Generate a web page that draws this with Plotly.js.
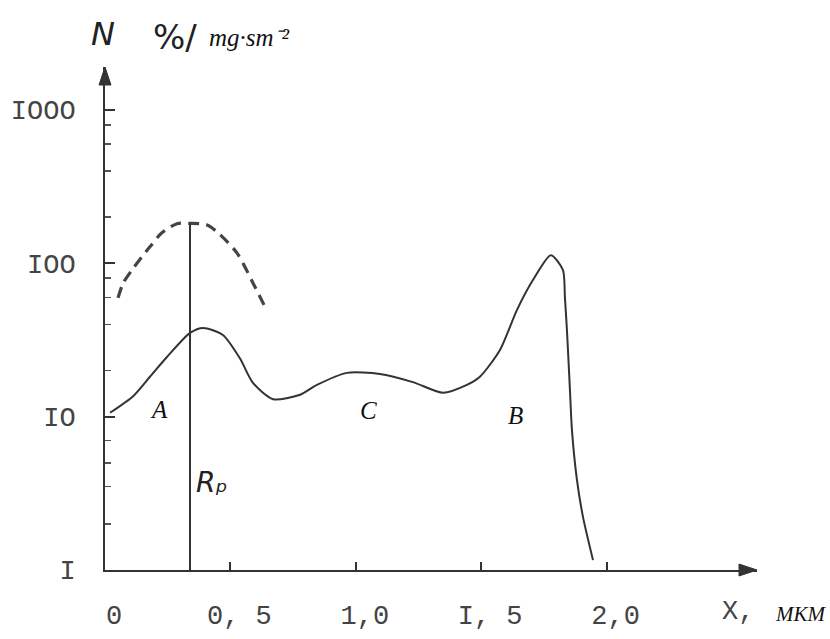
<!DOCTYPE html>
<html>
<head>
<meta charset="utf-8">
<script src="https://cdn.plot.ly/plotly-3.0.1.min.js"></script>
<style>html,body{margin:0;padding:0;background:#fff;}#chart{width:830px;height:639px;}</style>
</head>
<body>
<div id="chart"></div>
<script>
// Solid curve (N, %)
const solidX = [0.02, 0.112, 0.179, 0.247, 0.339, 0.391, 0.47, 0.538, 0.59, 0.67, 0.778, 0.845, 0.965, 1.096, 1.228, 1.348, 1.443, 1.495, 1.575, 1.643, 1.707, 1.778, 1.826, 1.834, 1.842, 1.854, 1.862, 1.882, 1.906, 1.946];
const solidY = [10.6, 13.6, 18.2, 24.5, 35.2, 37.9, 34.1, 24, 16.6, 13.0, 13.9, 16.1, 19.3, 19.0, 16.8, 14.3, 16.1, 18.2, 27.2, 49.7, 78, 113, 90.6, 60, 36.8, 15, 8.2, 3.87, 2.22, 1.16];
// Dashed curve (mg·sm^-2)
const dashedX = [0.052, 0.072, 0.108, 0.179, 0.227, 0.287, 0.339, 0.407, 0.447, 0.526, 0.59, 0.638];
const dashedY = [59.5, 74, 90.6, 128, 158, 181, 182, 178, 160, 117, 74.5, 52];
// Rp marker
const rpX = 0.339;
const rpTop = 182;
// Axis ticks
const xTickVals = [0, 0.5, 1.0, 1.5, 2.0];
const xTickText = ["0", "0, 5", "1,0", "I, 5", "2,0"];
const yTickVals = [1, 10, 100, 1000];
const yTickText = ["I", "IO", "IOO", "IOOO"];
const yMinorVals = [2, 3.5, 5, 7, 20, 40, 60, 80, 200, 400, 600, 800];
// Region labels
const regionLabels = ["A", "C", "B"];
const regionX = [0.215, 1.049, 1.635];
const regionY = [11.1, 10.9, 10.1];

const ink = '#333';
const traces = [
  {x: solidX, y: solidY, mode: 'lines', line: {color: ink, width: 2, shape: 'spline', smoothing: 0.7}, hoverinfo: 'skip'},
  {x: dashedX, y: dashedY, mode: 'lines', line: {color: '#444', width: 3.2, dash: '11px,7px', shape: 'spline', smoothing: 0.8}, hoverinfo: 'skip'},
  {x: [rpX, rpX], y: [1, rpTop], mode: 'lines', line: {color: ink, width: 2}, hoverinfo: 'skip'}
];

const tickFont = {family: 'Liberation Mono, DejaVu Sans Mono, monospace', size: 27, color: '#444'};
const serifIt = (size) => ({family: 'Liberation Serif, serif', size: size, color: '#111', style: 'italic'});
const sansIt = (size) => ({family: 'DejaVu Sans, sans-serif', size: size, color: '#222', style: 'italic'});
const annotations = [];
regionLabels.forEach((t, i) => {
  annotations.push({x: regionX[i], y: Math.log10(regionY[i]), xref: 'x', yref: 'y', text: t, showarrow: false,
    xanchor: 'center', yanchor: 'middle', font: serifIt(25)});
});
annotations.push({x: 0.423, y: Math.log10(3.7), xref: 'x', yref: 'y', text: 'Rₚ', showarrow: false,
  xanchor: 'center', yanchor: 'middle', font: sansIt(28)});
// header labels
annotations.push({x: -0.003, y: 1.066, xref: 'paper', yref: 'paper', text: 'N', showarrow: false,
  xanchor: 'center', yanchor: 'middle', font: sansIt(32)});
annotations.push({x: 0.108, y: 1.06, xref: 'paper', yref: 'paper', text: '%/', showarrow: false,
  xanchor: 'center', yanchor: 'middle', font: {family: 'DejaVu Sans, sans-serif', size: 34, color: '#222'}});
annotations.push({x: 0.222, y: 1.058, xref: 'paper', yref: 'paper', text: 'mg·sm⁻²', showarrow: false,
  xanchor: 'center', yanchor: 'middle', font: serifIt(25)});
annotations.push({x: 0.971, y: -0.083, xref: 'paper', yref: 'paper', text: 'X,', showarrow: false,
  xanchor: 'center', yanchor: 'middle', font: tickFont});
annotations.push({x: 1.067, y: -0.087, xref: 'paper', yref: 'paper', text: 'MKM', showarrow: false,
  xanchor: 'center', yanchor: 'middle', font: serifIt(21)});

// axis arrowheads as shapes (domain coordinates)
const W = 652, H = 503;
const shapes = [
  {type: 'path', xref: 'x domain', yref: 'y domain',
   path: `M 1 0 L ${1 - 18 / W} ${6 / H} L ${1 - 18 / W} ${-6 / H} Z`,
   fillcolor: ink, line: {color: ink, width: 1}},
  {type: 'path', xref: 'x domain', yref: 'y domain',
   path: `M 0 1 L ${6 / W} ${1 - 18 / H} L ${-6 / W} ${1 - 18 / H} Z`,
   fillcolor: ink, line: {color: ink, width: 1}}
];

const layout = {
  width: 830, height: 639,
  margin: {l: 105, r: 73, t: 67, b: 69},
  paper_bgcolor: '#fff', plot_bgcolor: '#fff',
  showlegend: false,
  xaxis: {range: [0, 2.6], showgrid: false, zeroline: false, showline: true, linecolor: ink, linewidth: 2,
    tickmode: 'array', tickvals: xTickVals, ticktext: xTickText, ticks: 'inside', ticklen: 8, tickwidth: 2, tickcolor: ink,
    tickfont: tickFont, ticklabelstandoff: 20, ticklabelshift: 9},
  yaxis: {type: 'log', range: [0, 3.28], showgrid: false, zeroline: false, showline: true, linecolor: ink, linewidth: 2,
    tickmode: 'array', tickvals: yTickVals, ticktext: yTickText, ticks: 'inside', ticklen: 10, tickwidth: 2, tickcolor: ink,
    tickfont: tickFont, ticklabelstandoff: 22,
    minor: {tickmode: 'array', tickvals: yMinorVals, ticks: 'inside', ticklen: 6, tickwidth: 1.5, tickcolor: '#555', showgrid: false}},
  annotations: annotations,
  shapes: shapes
};

Plotly.newPlot('chart', traces, layout, {staticPlot: true, displayModeBar: false}).then(() => {
  document.querySelectorAll('.js-plotly-tester').forEach(el => el.remove());
  document.querySelectorAll('text').forEach(t => {
    if (!t.textContent.trim()) t.remove();
  });
});
</script>
</body>
</html>
